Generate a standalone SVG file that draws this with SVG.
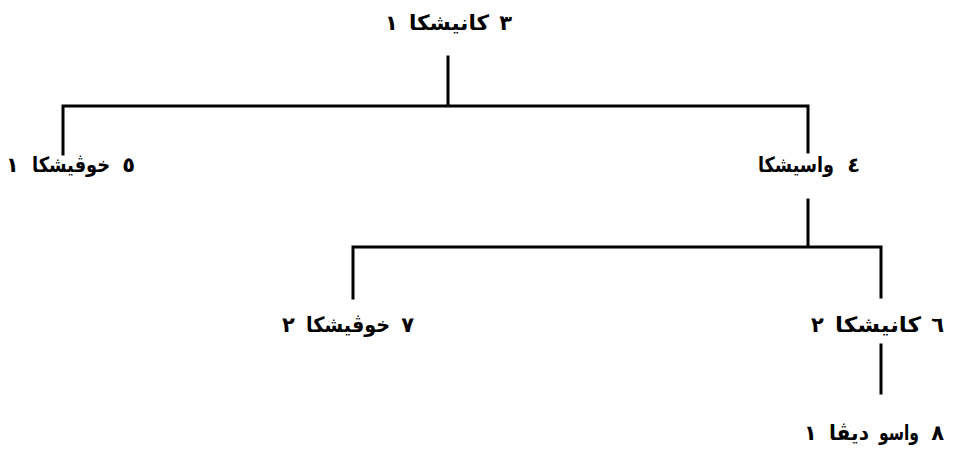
<svg xmlns="http://www.w3.org/2000/svg" width="967" height="452" viewBox="0 0 967 452">
<style>
.t{font-family:"DejaVu Sans","Noto Sans",sans-serif;font-size:21px;font-weight:bold;fill:#000}
.w{text-anchor:middle}
.dl{text-anchor:start}
.dr{text-anchor:end}
.ln{stroke:#000;stroke-width:3;fill:none;stroke-linecap:square}
</style>
<rect width="967" height="452" fill="#fff"/>
<g id="connectors">
<path class="ln" d="M448,57 V106 M63,106 H808 M63,106 V154 M808,106 V152"/>
<path class="ln" d="M808,200 V247 M353,247 H881 M353,247 V298 M881,247 V297"/>
<path class="ln" d="M881,345 V393"/>
</g>
<g id="n3">
<text class="t dl" x="385" y="30">&#x661;</text>
<text class="t w" x="449" y="30" textLength="80" lengthAdjust="spacingAndGlyphs">كانيشكا</text>
<text class="t dr" x="512" y="30">&#x663;</text>
</g>
<g id="n5">
<text class="t dl" x="6" y="172">&#x661;</text>
<text class="t w" x="71" y="172" textLength="78" lengthAdjust="spacingAndGlyphs">خوڤيشكا</text>
<text class="t dr" x="135" y="172">&#x665;</text>
</g>
<g id="n4">
<text class="t w" x="796" y="172" textLength="76" lengthAdjust="spacingAndGlyphs">واسيشكا</text>
<text class="t dr" x="860" y="172">&#x664;</text>
</g>
<g id="n7">
<text class="t dl" x="282" y="332">&#x662;</text>
<text class="t w" x="348" y="332" textLength="84" lengthAdjust="spacingAndGlyphs">خوڤيشكا</text>
<text class="t dr" x="414" y="332">&#x667;</text>
</g>
<g id="n6">
<text class="t dl" x="811" y="332">&#x662;</text>
<text class="t w" x="878" y="332" textLength="86" lengthAdjust="spacingAndGlyphs">كانيشكا</text>
<text class="t dr" x="944" y="332">&#x666;</text>
</g>
<g id="n8">
<text class="t dl" x="804" y="440">&#x661;</text>
<text class="t w" x="849" y="440" textLength="40" lengthAdjust="spacingAndGlyphs">ديڤا</text>
<text class="t w" x="899" y="440" textLength="40" lengthAdjust="spacingAndGlyphs">واسو</text>
<text class="t dr" x="944" y="440">&#x668;</text>
</g>
</svg>
